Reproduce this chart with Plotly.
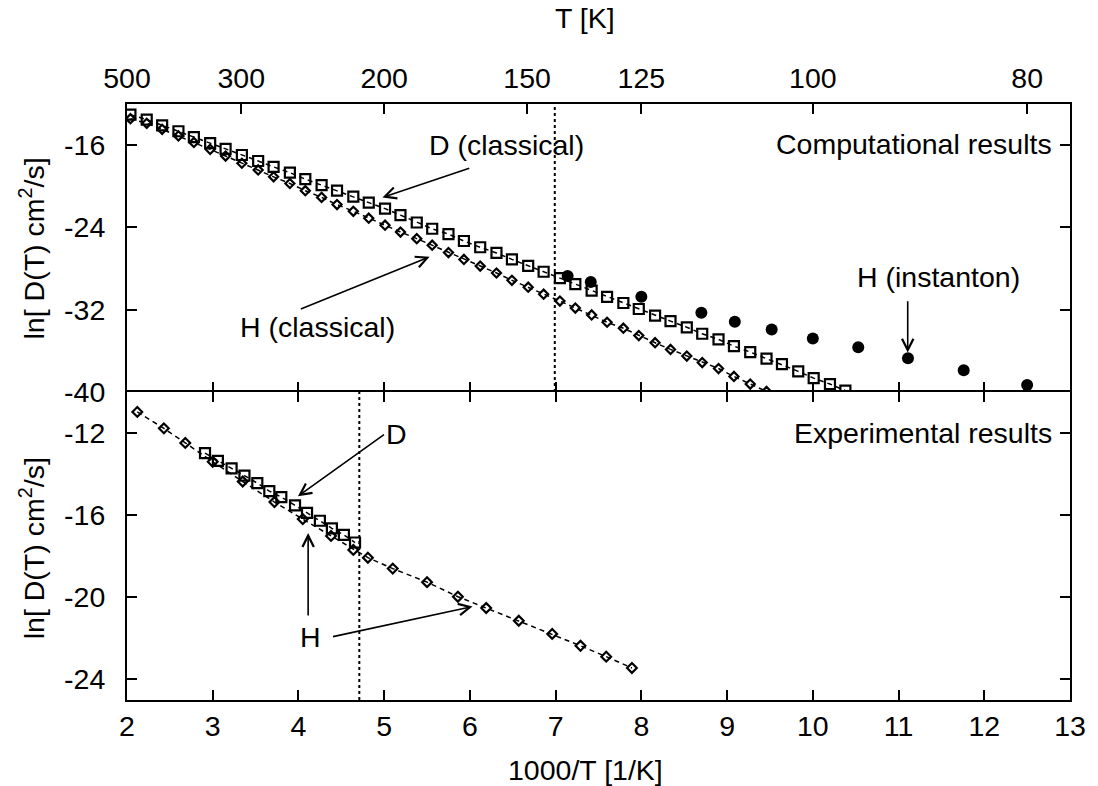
import plotly.graph_objects as go

# ---- computational results (top panel) ----
inv_t_d_classical = [2.04, 2.23, 2.41, 2.60, 2.78, 2.97, 3.15, 3.34, 3.53, 3.71,
                     3.90, 4.08, 4.27, 4.45, 4.64, 4.82, 5.01, 5.19, 5.38, 5.56,
                     5.75, 5.93, 6.12, 6.31, 6.49, 6.68, 6.86, 7.05, 7.23, 7.42,
                     7.60, 7.79, 7.97, 8.16, 8.34, 8.53, 8.71, 8.90, 9.08, 9.27,
                     9.46, 9.64, 9.83, 10.01, 10.20, 10.38]
ln_d_d_classical = [-13.04, -13.52, -14.07, -14.65, -15.23, -15.81, -16.36, -16.96, -17.54, -18.12,
                    -18.67, -19.31, -19.88, -20.43, -21.01, -21.59, -22.17, -22.80, -23.52, -24.13,
                    -24.65, -25.32, -25.93, -26.48, -27.11, -27.73, -28.31, -28.92, -29.52, -30.14,
                    -30.75, -31.35, -31.93, -32.58, -33.11, -33.71, -34.34, -34.89, -35.54, -36.12,
                    -36.75, -37.30, -38.00, -38.65, -39.23, -39.87]

inv_t_h_classical = [2.04, 2.23, 2.41, 2.60, 2.78, 2.97, 3.15, 3.34, 3.53, 3.71,
                     3.90, 4.08, 4.27, 4.45, 4.64, 4.82, 5.01, 5.19, 5.38, 5.56,
                     5.75, 5.93, 6.12, 6.31, 6.49, 6.68, 6.86, 7.05, 7.23, 7.42,
                     7.60, 7.79, 7.97, 8.16, 8.34, 8.53, 8.71, 8.90, 9.08, 9.27,
                     9.46]
ln_d_h_classical = [-13.43, -13.88, -14.46, -15.10, -15.74, -16.41, -17.06, -17.76, -18.41, -19.08,
                    -19.73, -20.43, -21.08, -21.78, -22.43, -23.10, -23.78, -24.45, -25.09, -25.73,
                    -26.44, -27.11, -27.76, -28.43, -29.14, -29.81, -30.49, -31.16, -31.84, -32.51,
                    -33.22, -33.80, -34.51, -35.21, -35.86, -36.51, -37.14, -37.72, -38.49, -39.23,
                    -39.95]

inv_t_h_instanton = [7.14, 7.41, 8.00, 8.70, 9.09, 9.52, 10.00, 10.53, 11.11, 11.76, 12.50]
ln_d_h_instanton = [-28.72, -29.30, -30.75, -32.29, -33.16, -33.93, -34.80, -35.66, -36.72, -37.88, -39.33]

# ---- experimental results (bottom panel) ----
inv_t_h_exp = [2.12, 2.43, 2.68, 3.00, 3.35, 3.72, 4.05, 4.38, 4.64, 4.81,
               5.10, 5.50, 5.86, 6.19, 6.57, 6.96, 7.29, 7.59, 7.89]
ln_d_h_exp = [-10.97, -11.77, -12.48, -13.40, -14.36, -15.36, -16.19, -17.01, -17.69, -18.07,
              -18.60, -19.26, -19.97, -20.52, -21.14, -21.78, -22.36, -22.89, -23.44]

inv_t_d_exp = [2.91, 3.06, 3.22, 3.37, 3.52, 3.66, 3.80, 3.96, 4.10, 4.25, 4.39, 4.53, 4.66]
ln_d_d_exp = [-12.98, -13.35, -13.72, -14.07, -14.44, -14.83, -15.12, -15.52, -15.89, -16.27,
              -16.64, -16.96, -17.33]

# axis ticks
inv_t_ticks = [2, 3, 4, 5, 6, 7, 8, 9, 10, 11, 12, 13]
temp_tick_pos = [2.0, 3.333, 5.0, 6.667, 8.0, 10.0, 12.5]
temp_tick_text = ["500", "300", "200", "150", "125", "100", "80"]
top_y_ticks = [-40, -32, -24, -16]
bottom_y_ticks = [-24, -20, -16, -12]

# vertical guide lines
top_marker_x = 6.99
bottom_marker_x = 4.71

FONT = "Liberation Sans, Arial, Helvetica, sans-serif"
FS = 28.5
BLACK = "black"
DASH = "5px,4px"

fig = go.Figure()

# top panel series
fig.add_trace(go.Scatter(
    x=inv_t_d_classical, y=ln_d_d_classical, xaxis="x2", yaxis="y2",
    mode="lines+markers", line=dict(color=BLACK, width=1.5, dash=DASH),
    marker=dict(symbol="square-open", size=10, color=BLACK, line=dict(width=2.2, color=BLACK)),
    showlegend=False))
fig.add_trace(go.Scatter(
    x=inv_t_h_classical, y=ln_d_h_classical, xaxis="x2", yaxis="y2",
    mode="lines+markers", line=dict(color=BLACK, width=1.5, dash=DASH),
    marker=dict(symbol="diamond-open", size=7, color=BLACK, line=dict(width=2.2, color=BLACK)),
    showlegend=False))
fig.add_trace(go.Scatter(
    x=inv_t_h_instanton, y=ln_d_h_instanton, xaxis="x2", yaxis="y2",
    mode="markers", marker=dict(symbol="circle", size=12, color=BLACK),
    showlegend=False))
# invisible carrier so the temperature axis on top is drawn
fig.add_trace(go.Scatter(
    x=temp_tick_pos, y=[-40] * len(temp_tick_pos), xaxis="x3", yaxis="y2",
    mode="markers", marker=dict(size=1, opacity=0), hoverinfo="skip", showlegend=False))

# bottom panel series
fig.add_trace(go.Scatter(
    x=inv_t_h_exp, y=ln_d_h_exp, xaxis="x", yaxis="y",
    mode="lines+markers", line=dict(color=BLACK, width=1.5, dash=DASH),
    marker=dict(symbol="diamond-open", size=7.5, color=BLACK, line=dict(width=2.2, color=BLACK)),
    showlegend=False))
fig.add_trace(go.Scatter(
    x=inv_t_d_exp, y=ln_d_d_exp, xaxis="x", yaxis="y",
    mode="lines+markers", line=dict(color=BLACK, width=1.5, dash=DASH),
    marker=dict(symbol="square-open", size=10, color=BLACK, line=dict(width=2.2, color=BLACK)),
    showlegend=False))

split = 0.5168
axis_common = dict(linecolor=BLACK, linewidth=2, ticks="inside",
                   ticklen=10, tickwidth=1.5, tickcolor=BLACK, showgrid=False,
                   zeroline=False, tickfont=dict(family=FONT, size=FS, color=BLACK))

fig.update_layout(
    width=1098, height=786,
    margin=dict(l=127, r=26, t=104, b=86),
    paper_bgcolor="white", plot_bgcolor="white",
    font=dict(family=FONT, size=FS, color=BLACK),
    xaxis=dict(range=[2, 13], tickvals=inv_t_ticks, anchor="y", mirror="ticks",
               showline=True, ticklabelstandoff=0, **axis_common),
    yaxis=dict(range=[-25, -10], tickvals=bottom_y_ticks,
               ticktext=[str(v) for v in bottom_y_ticks], domain=[0, split],
               anchor="x", mirror="ticks", showline=True, ticklabelstandoff=14, **axis_common),
    xaxis2=dict(range=[2, 13], tickvals=inv_t_ticks, anchor="y2", showline=False,
                showticklabels=False, **axis_common),
    xaxis3=dict(range=[2, 13], tickvals=temp_tick_pos, ticktext=temp_tick_text,
                overlaying="x2", side="top", anchor="y2", showline=True,
                ticklabelstandoff=3, **axis_common),
    yaxis2=dict(range=[-40, -12], tickvals=top_y_ticks,
                ticktext=[str(v) for v in top_y_ticks], domain=[split, 1],
                anchor="x2", mirror="ticks", showline=True, ticklabelstandoff=14, **axis_common),
)

# dotted guide lines
fig.add_shape(type="line", xref="x2", yref="y2 domain", x0=top_marker_x, x1=top_marker_x,
              y0=0, y1=1, line=dict(color=BLACK, width=2, dash="dot"))
fig.add_shape(type="line", xref="x", yref="y domain", x0=bottom_marker_x, x1=bottom_marker_x,
              y0=0, y1=1, line=dict(color=BLACK, width=2, dash="dot"))


def label(text, x, y, xref, yref, xanchor="center", angle=0):
    fig.add_annotation(text=text, x=x, y=y, xref=xref, yref=yref, showarrow=False,
                       xanchor=xanchor, yanchor="middle", textangle=angle,
                       font=dict(family=FONT, size=FS, color=BLACK))


def arrow(x0, y0, x1, y1, xref, yref):
    fig.add_annotation(text="", x=x1, y=y1, ax=x0, ay=y0, xref=xref, yref=yref,
                       axref=xref, ayref=yref, showarrow=True, arrowhead=5,
                       arrowsize=1.4, arrowwidth=1.6, arrowcolor=BLACK,
                       standoff=0, startstandoff=0)


# top panel labels and arrows
label("Computational results", 12.81, -15.9, "x2", "y2", xanchor="right")
label("D (classical)", 6.43, -16.0, "x2", "y2")
arrow(6.01, -18.19, 4.98, -21.08, "x2", "y2")
label("H (classical)", 4.22, -33.7, "x2", "y2")
arrow(4.01, -32.0, 5.53, -26.86, "x2", "y2")
label("H (instanton)", 11.47, -28.8, "x2", "y2")
arrow(11.107, -31.04, 11.107, -36.17, "x2", "y2")

# bottom panel labels and arrows
label("Experimental results", 12.81, -12.0, "x", "y", xanchor="right")
label("D", 5.14, -12.05, "x", "y")
arrow(5.015, -12.02, 3.994, -15.08, "x", "y")
label("H", 4.142, -21.93, "x", "y")
arrow(4.113, -20.96, 4.113, -16.87, "x", "y")
arrow(4.386, -21.93, 6.03, -20.45, "x", "y")

# axis titles
ytitle = "ln[ D(T) cm<sup>2</sup>/s]"
label(ytitle, -0.1005, 0.758, "paper", "paper", angle=-90)
label(ytitle, -0.1005, 0.255, "paper", "paper", angle=-90)
label("1000/T [1/K]", 0.4857, -0.117, "paper", "paper")
label("T [K]", 0.4857, 1.144, "paper", "paper")

fig.write_html("out.html")
